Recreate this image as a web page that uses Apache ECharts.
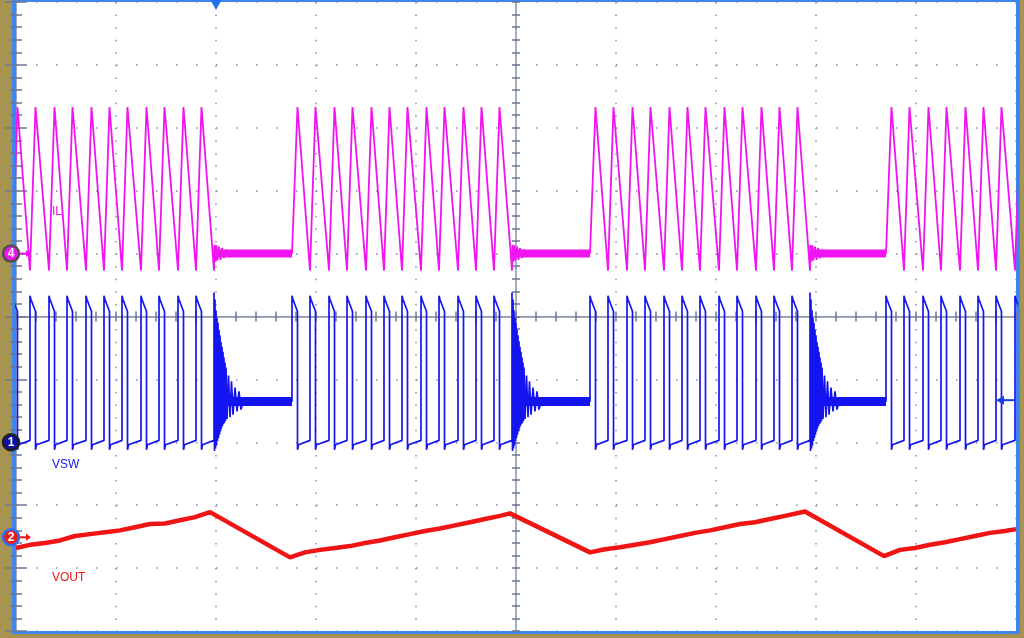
<!DOCTYPE html>
<html>
<head>
<meta charset="utf-8">
<title>Burst mode switching waveforms</title>
<script src="https://cdn.jsdelivr.net/npm/echarts@6/dist/echarts.min.js"></script>
<style>
  html, body { margin: 0; padding: 0; }
  body { width: 1024px; height: 638px; background: #a89452; position: relative; overflow: hidden; }
  #frame { position: absolute; left: 12px; top: -2px; width: 1008px; height: 636px; background: #3f87f0; }
  #screen { position: absolute; left: 16px; top: 2px; width: 1000px; height: 629px; background: #fff; }
  #chart { position: absolute; left: 0; top: 0; width: 1024px; height: 638px; }
</style>
</head>
<body>
<div id="frame"></div>
<div id="screen"></div>
<div id="chart"></div>
<script>
// screen is 10 x 10 divisions: time 0..10 div, vertical -5..+5 div

// switching cycle start times (VSW rising edge = IL valley), one list per burst
const burstRise = [
  [-0.04, 0.14, 0.33, 0.51, 0.70, 0.88, 1.06, 1.25, 1.43, 1.62, 1.80],
  [2.76, 2.94, 3.13, 3.31, 3.50, 3.68, 3.86, 4.05, 4.23, 4.42, 4.60, 4.78],
  [5.74, 5.92, 6.11, 6.29, 6.48, 6.66, 6.84, 7.03, 7.21, 7.40, 7.58, 7.76],
  [8.70, 8.88, 9.07, 9.25, 9.44, 9.62, 9.80, 9.99]
];
const burstEnd = [1.98, 4.96, 7.94, null];
const onTime = 0.055;

// ch4 IL levels
const ilLevels = { valley: 0.73, peak: 3.33, zero: 1.0 };
const ilRing = [[0, 0.71], [0.005, 1.14], [0.015, 0.87], [0.025, 1.13], [0.035, 0.89], [0.05, 1.11],
  [0.065, 0.90], [0.08, 1.09], [0.10, 0.93], [0.12, 1.06], [0.15, 1.0]];

// ch1 VSW levels
const swLevels = { overshoot: 0.33, highStart: 0.27, highEnd: 0.08, under: -2.12, low: -2.04, lowEnd: -1.97, idle: -1.35 };
const swRing = [[0, 0.38], [0.005, -2.14], [0.01, 0.27], [0.015, -2.10], [0.02, 0.10], [0.025, -2.05],
  [0.03, -0.02], [0.035, -1.98], [0.04, -0.10], [0.045, -1.93], [0.05, -0.21], [0.055, -1.88],
  [0.06, -0.30], [0.065, -1.83], [0.07, -0.40], [0.075, -1.78], [0.08, -0.48], [0.085, -1.74],
  [0.09, -0.56], [0.095, -1.71], [0.10, -0.65], [0.105, -1.69], [0.11, -0.73], [0.115, -1.66],
  [0.12, -0.81], [0.13, -1.63], [0.145, -0.94], [0.16, -1.60], [0.175, -1.03], [0.19, -1.56],
  [0.21, -1.13], [0.23, -1.51], [0.25, -1.19], [0.27, -1.48], [0.30, -1.30]];

// ch2 VOUT
const voutTime = [0.00, 0.14, 0.29, 0.44, 0.59, 0.74, 0.89, 1.04, 1.19, 1.34, 1.49, 1.64, 1.79, 1.94,
  2.74, 2.89, 3.04, 3.19, 3.34, 3.49, 3.64, 3.79, 3.94, 4.09, 4.24, 4.39, 4.54, 4.69, 4.84, 4.94,
  5.74, 5.89, 6.04, 6.19, 6.34, 6.49, 6.64, 6.79, 6.94, 7.09, 7.24, 7.39, 7.54, 7.69, 7.89,
  8.68, 8.84, 8.99, 9.14, 9.29, 9.44, 9.59, 9.74, 9.89, 10.0];
const voutValue = [-3.68, -3.63, -3.60, -3.56, -3.49, -3.46, -3.43, -3.40, -3.35, -3.30, -3.29, -3.24, -3.19, -3.11,
  -3.83, -3.75, -3.71, -3.68, -3.65, -3.60, -3.56, -3.51, -3.46, -3.41, -3.37, -3.32, -3.27, -3.22, -3.17, -3.13,
  -3.75, -3.70, -3.67, -3.63, -3.59, -3.54, -3.49, -3.44, -3.40, -3.35, -3.30, -3.27, -3.22, -3.17, -3.10,
  -3.81, -3.71, -3.68, -3.63, -3.59, -3.54, -3.49, -3.44, -3.41, -3.38];

// channel ground markers and trigger
const channelNames = ['IL', 'VSW', 'VOUT'];
const channelNumbers = ['4', '1', '2'];
const channelOffsets = [1.0, -2.0, -3.51];
const triggerTime = 2.0;
const triggerLevel = -1.33;

const colors = { il: '#f014f0', sw: '#1414f0', vout: '#f01414' };

function buildIL() {
  const d = [];
  burstRise.forEach((rises, b) => {
    rises.forEach((r, i) => {
      d.push([r, b > 0 && i === 0 ? ilLevels.zero : ilLevels.valley]);
      d.push([r + onTime, ilLevels.peak]);
    });
    const e = burstEnd[b];
    if (e != null) {
      d.push([e, ilLevels.valley]);
      ilRing.forEach(p => d.push([e + p[0], p[1]]));
    }
  });
  return d;
}

function buildSW() {
  const d = [];
  burstRise.forEach((rises, b) => {
    rises.forEach((r, i) => {
      d.push([r, b > 0 && i === 0 ? swLevels.idle : swLevels.lowEnd]);
      d.push([r, swLevels.overshoot]);
      d.push([r + 0.01, swLevels.highStart]);
      d.push([r + onTime, swLevels.highEnd]);
      d.push([r + onTime, swLevels.under]);
      d.push([r + onTime + 0.01, swLevels.low]);
    });
    const e = burstEnd[b];
    if (e != null) {
      d.push([e, swLevels.lowEnd]);
      swRing.forEach(p => d.push([e + p[0], p[1]]));
    }
  });
  return d;
}

// thick noise band while the converter idles between bursts
function idleBands(level, startOffset, color, width) {
  const out = [];
  for (let b = 0; b < burstEnd.length - 1; b++) {
    out.push({
      type: 'line', showSymbol: false, silent: true, clip: true,
      lineStyle: { color: color, width: width },
      data: [[burstEnd[b] + startOffset, level], [burstRise[b + 1][0], level]]
    });
  }
  return out;
}

const chart = echarts.init(document.getElementById('chart'));

const gridColor = '#8690ad';
const tickColor = '#6c7792';
const centerColor = '#8a93a7';

function edgeX(position, showSplit) {
  return {
    type: 'value', min: 0, max: 10, interval: 1, position: position,
    axisLine: { show: true, lineStyle: { color: '#a2aac0', width: 1 } },
    axisTick: { show: true, inside: true, length: 5, lineStyle: { color: tickColor, width: 1.5 } },
    minorTick: { show: true, splitNumber: 5, length: 5, lineStyle: { color: tickColor, width: 1.5 } },
    axisLabel: { show: false },
    splitLine: { show: showSplit, lineStyle: { color: gridColor, width: 1.5, type: [1.5, 11.08] } }
  };
}
function edgeY(position, showSplit) {
  return {
    type: 'value', min: -5, max: 5, interval: 1, position: position,
    axisLine: { show: true, lineStyle: { color: '#a2aac0', width: 1 } },
    axisTick: { show: true, inside: true, length: 11, lineStyle: { color: tickColor, width: 1.5 } },
    minorTick: { show: true, splitNumber: 5, length: 6, lineStyle: { color: tickColor, width: 1.5 } },
    axisLabel: { show: false },
    splitLine: { show: showSplit, lineStyle: { color: gridColor, width: 1.5, type: [1.5, 18.5] } }
  };
}
function centerX(inside) {
  return {
    type: 'value', min: 0, max: 10, interval: 1, position: 'bottom', offset: -314.5,
    axisLine: { show: inside, lineStyle: { color: centerColor, width: 1.5 } },
    axisTick: { show: true, inside: inside, length: 3, lineStyle: { color: tickColor, width: 1.5 } },
    minorTick: { show: true, splitNumber: 5, length: 3, lineStyle: { color: tickColor, width: 1.5 } },
    axisLabel: { show: false }, splitLine: { show: false }
  };
}
function centerY(inside) {
  return {
    type: 'value', min: -5, max: 5, interval: 1, position: 'left', offset: -500,
    axisLine: { show: inside, lineStyle: { color: centerColor, width: 1.5 } },
    axisTick: { show: true, inside: inside, length: 4, lineStyle: { color: tickColor, width: 1.5 } },
    minorTick: { show: true, splitNumber: 5, length: 4, lineStyle: { color: tickColor, width: 1.5 } },
    axisLabel: { show: false }, splitLine: { show: false }
  };
}

const voutData = voutTime.map((t, i) => [t, voutValue[i]]);

chart.setOption({
  animation: false,
  grid: { left: 16, top: 2, width: 1000, height: 629, outerBoundsMode: 'none' },
  xAxis: [edgeX('bottom', true), edgeX('top', false), centerX(true), centerX(false)],
  yAxis: [edgeY('left', true), edgeY('right', false), centerY(true), centerY(false)],
  series: [
    { name: 'VOUT', type: 'line', showSymbol: false, clip: true,
      lineStyle: { color: colors.vout, width: 4.5 }, data: voutData },
    ...idleBands(ilLevels.zero, 0.02, colors.il, 8),
    { name: 'IL', type: 'line', showSymbol: false, clip: true,
      lineStyle: { color: colors.il, width: 1.8 }, data: buildIL() },
    ...idleBands(swLevels.idle, 0.12, colors.sw, 9),
    { name: 'VSW', type: 'line', showSymbol: false, clip: true,
      lineStyle: { color: colors.sw, width: 1.7 }, data: buildSW() }
  ]
});

// channel badges, labels and trigger markers placed through the axis scales
const yPx = v => chart.convertToPixel({ yAxisIndex: 0 }, v);
const xPx = t => chart.convertToPixel({ xAxisIndex: 0 }, t);

const badgeFill = [colors.il, '#0c10a8', '#ec1c1c'];
const badgeRing = ['#4f4f4f', '#202020', '#2f70f0'];
const arrowColor = [colors.il, null, colors.vout];
const labelTop = [206, 459, 572];

const graphics = [];
channelOffsets.forEach((v, i) => {
  const y = yPx(v);
  if (arrowColor[i]) {
    graphics.push({ type: 'line', z: 100, shape: { x1: 20, y1: y, x2: 27, y2: y },
      style: { stroke: arrowColor[i], lineWidth: 2 } });
    graphics.push({ type: 'polygon', z: 100, shape: { points: [[26, y - 3.5], [31, y], [26, y + 3.5]] },
      style: { fill: arrowColor[i] } });
  }
  graphics.push({ type: 'circle', z: 101, shape: { cx: 11, cy: y, r: 8 },
    style: { fill: badgeFill[i], stroke: badgeRing[i], lineWidth: 2.5 } });
  graphics.push({ type: 'text', z: 102, x: 11, y: y,
    style: { text: channelNumbers[i], fill: '#fff', font: 'bold 12px "Liberation Sans", Arial, sans-serif',
      textAlign: 'center', textVerticalAlign: 'middle' } });
  graphics.push({ type: 'text', z: 100, left: 52, top: labelTop[i],
    style: { text: channelNames[i], fill: [colors.il, colors.sw, colors.vout][i],
      font: '12px "Liberation Sans Narrow", "Liberation Sans", Arial, sans-serif' } });
});

const tx = xPx(triggerTime);
graphics.push({ type: 'polygon', z: 100, shape: { points: [[tx - 5.5, 0], [tx + 5.5, 0], [tx, 10]] },
  style: { fill: '#2470ee' } });
const ty = yPx(triggerLevel);
graphics.push({ type: 'polygon', z: 100, shape: { points: [[996, ty], [1004, ty - 4.5], [1004, ty + 4.5]] },
  style: { fill: '#1a3cf0' } });
graphics.push({ type: 'line', z: 100, shape: { x1: 1003, y1: ty, x2: 1016, y2: ty },
  style: { stroke: '#1a3cf0', lineWidth: 2 } });

chart.setOption({ graphic: graphics });
</script>
</body>
</html>
